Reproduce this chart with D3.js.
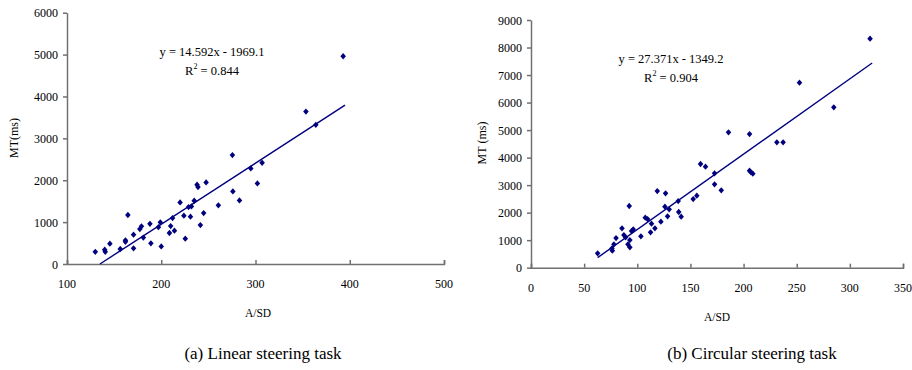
<!DOCTYPE html>
<html>
<head>
<meta charset="utf-8">
<script src="https://cdn.jsdelivr.net/npm/d3@7/dist/d3.min.js"></script>
<style>
  html, body { margin: 0; padding: 0; background: #fff; }
  svg { display: block; }
  text { font-family: "Liberation Serif", "Times New Roman", serif; fill: #000; }
</style>
</head>
<body>
<svg id="chart" width="912" height="370"></svg>
<script>
// Linear steering task: A/SD vs. movement time (ms)
const linearASD = [130, 140, 140.6, 145.5, 156.5, 162, 162, 164.6, 170.6, 170.6,
  177.3, 179, 181, 188, 189, 197, 199, 200, 208.7, 210,
  212, 214, 220, 224, 225.5, 229, 231, 232, 235, 238,
  239, 241.5, 245, 247.6, 260.6, 275.5, 276, 283, 295, 302,
  307, 353.5, 364, 393];
const linearMT = [290, 340, 290, 485, 358, 565, 530, 1170, 700, 374,
  835, 900, 630, 960, 493, 880, 995, 420, 740, 906,
  1097, 795, 1470, 1153, 604, 1360, 1129, 1375, 1510, 1892,
  1836, 930, 1216, 1948, 1400, 2600, 1733, 1518, 2281, 1924,
  2417, 3640, 3323, 4960];
const linearFit = { slope: 14.592, intercept: -1969.1, r2: 0.844 };
const linearXTicks = [100, 200, 300, 400, 500];
const linearYTicks = [0, 1000, 2000, 3000, 4000, 5000, 6000];

// Circular steering task: A/SD vs. movement time (ms)
const circularASD = [62.7, 76.2, 76.5, 78, 80, 85.6, 87.4, 89, 91.2, 92.4,
  93, 93, 94.6, 96.2, 103.4, 107.5, 109.7, 112.5, 113.4, 116.6,
  118.8, 122.2, 126, 126.6, 128.5, 130, 138.5, 139, 141.3, 152.6,
  156, 159.5, 164.2, 172.7, 172.7, 179, 185.8, 205.6, 205.6, 206.8,
  208.7, 231.3, 237.2, 252.6, 284.9, 319];
const circularMT = [521, 703, 618, 848, 1078, 1429, 1187, 1102, 848, 2241,
  739, 1005, 1332, 1393, 1139, 1817, 1768, 1284, 1599, 1429,
  2785, 1672, 2217, 2701, 1865, 2120, 2422, 2023, 1853, 2495,
  2616, 3767, 3670, 3428, 3028, 2810, 4918, 4857, 3525, 3476,
  3416, 4554, 4554, 6722, 5826, 8321];
const circularFit = { slope: 27.371, intercept: -1349.2, r2: 0.904 };
const circularXTicks = [0, 50, 100, 150, 200, 250, 300, 350];
const circularYTicks = [0, 1000, 2000, 3000, 4000, 5000, 6000, 7000, 8000, 9000];

const svg = d3.select("#chart");
svg.append("rect").attr("width", 912).attr("height", 370).attr("fill", "#fff");

const markColor = "#00007f";
const axisColor = "#707070";

// Small filled diamond marker
const diamond = {
  draw(ctx, size) {
    const r = Math.sqrt(size / 2);
    ctx.moveTo(0, -r * 1.08);
    ctx.lineTo(r * 0.95, 0);
    ctx.lineTo(0, r * 1.08);
    ctx.lineTo(-r * 0.95, 0);
    ctx.closePath();
  }
};

function scatterPanel(cfg) {
  const g = svg.append("g");
  const x = d3.scaleLinear().domain(cfg.xDomain).range([cfg.left, cfg.right]);
  const y = d3.scaleLinear().domain(cfg.yDomain).range([cfg.bottom, cfg.top]);

  // x axis: ticks point up into the plot
  const xAxis = g.append("g").attr("transform", `translate(0,${cfg.bottom})`)
    .call(d3.axisTop(x).tickValues(cfg.xTicks).tickSize(4).tickFormat(""));
  xAxis.selectAll("line, path").attr("stroke", axisColor).attr("stroke-width", 1.5);
  g.selectAll(".xlab").data(cfg.xTicks).enter().append("text")
    .attr("x", d => x(d)).attr("y", cfg.bottom + 24)
    .attr("text-anchor", "middle").attr("font-size", 12).text(d => d);

  // y axis: ticks point outward
  const yAxis = g.append("g").attr("transform", `translate(${cfg.left},0)`)
    .call(d3.axisLeft(y).tickValues(cfg.yTicks).tickSize(4).tickSizeOuter(0).tickFormat(""));
  yAxis.selectAll("line, path").attr("stroke", axisColor).attr("stroke-width", 1.5);
  g.selectAll(".ylab").data(cfg.yTicks).enter().append("text")
    .attr("x", cfg.left - 9).attr("y", d => y(d) + 4.5)
    .attr("text-anchor", "end").attr("font-size", 12).text(d => d);

  // axis titles
  g.append("text").attr("x", cfg.xTitleX).attr("y", cfg.bottom + 53)
    .attr("text-anchor", "middle").attr("font-size", 11.5).text("A/SD");
  g.append("text")
    .attr("transform", `translate(${cfg.yTitleX},${cfg.yTitleY}) rotate(-90)`)
    .attr("text-anchor", "middle").attr("font-size", 12).text(cfg.yTitle);

  // least-squares trend line across the data range (clipped at y = 0)
  const xs = cfg.xs;
  const x0 = Math.max(d3.min(xs), -cfg.fit.intercept / cfg.fit.slope);
  const x1 = d3.max(xs) + 2;
  const f = v => cfg.fit.slope * v + cfg.fit.intercept;
  g.append("line")
    .attr("x1", x(x0)).attr("y1", y(f(x0)))
    .attr("x2", x(x1)).attr("y2", y(f(x1)))
    .attr("stroke", markColor).attr("stroke-width", 1.4);

  // points
  const sym = d3.symbol().type(diamond).size(17);
  g.selectAll(".pt").data(xs.map((v, i) => [v, cfg.ys[i]])).enter().append("path")
    .attr("d", sym)
    .attr("transform", d => `translate(${x(d[0])},${y(d[1])})`)
    .attr("fill", markColor);

  // regression equation
  const eq = g.append("text").attr("x", cfg.eqX).attr("y", cfg.eqY)
    .attr("text-anchor", "middle").attr("font-size", 12.5);
  eq.text(`y = ${cfg.fit.slope}x - ${Math.abs(cfg.fit.intercept)}`);
  const r2 = g.append("text").attr("x", cfg.eqX).attr("y", cfg.eqY + 19)
    .attr("text-anchor", "middle").attr("font-size", 12.5);
  r2.append("tspan").text("R");
  r2.append("tspan").attr("dy", -6).attr("font-size", 8).text("2");
  r2.append("tspan").attr("dy", 6).text(` = ${cfg.fit.r2}`);

  // caption
  g.append("text").attr("x", cfg.capX).attr("y", 359)
    .attr("text-anchor", "middle").attr("font-size", 17).text(cfg.caption);
}

scatterPanel({
  xs: linearASD, ys: linearMT, fit: linearFit,
  xDomain: [100, 500], yDomain: [0, 6000],
  xTicks: linearXTicks, yTicks: linearYTicks,
  left: 67, right: 444, top: 12.7, bottom: 264,
  xTitleX: 258, yTitleX: 18, yTitleY: 138, yTitle: "MT(ms)",
  eqX: 212, eqY: 56,
  capX: 263, caption: "(a) Linear steering task"
});

scatterPanel({
  xs: circularASD, ys: circularMT, fit: circularFit,
  xDomain: [0, 350], yDomain: [0, 9000],
  xTicks: circularXTicks, yTicks: circularYTicks,
  left: 531, right: 903, top: 20, bottom: 267.7,
  xTitleX: 717, yTitleX: 486, yTitleY: 143, yTitle: "MT (ms)",
  eqX: 671, eqY: 63,
  capX: 752, caption: "(b) Circular steering task"
});
</script>
</body>
</html>
